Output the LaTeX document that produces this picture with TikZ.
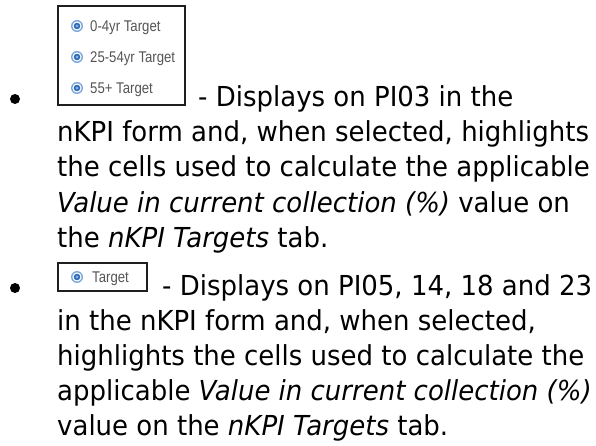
\documentclass[tikz,border=0pt]{standalone}
\usepackage{fontspec}
\setmainfont{DejaVu Sans}[FakeStretch=0.945]
\newfontfamily\uifont{Liberation Sans}[FakeStretch=0.85]
\definecolor{radioout}{RGB}{122,167,217}
\definecolor{radiomid}{RGB}{50,110,185}
\definecolor{radioin}{RGB}{150,186,230}
\definecolor{uigray}{RGB}{85,85,85}
\begin{document}
\begin{tikzpicture}[x=1pt,y=-1pt,
  txt/.style={anchor=base west,inner sep=0pt,font=\fontsize{27.5}{33}\selectfont},
  uitxt/.style={anchor=base west,inner sep=0pt,text=uigray,font=\uifont\fontsize{15.5}{17}\selectfont},
  uibox/.style={draw=black!88,line width=1.3pt},
  bulletdot/.style={fill=black,circle,inner sep=0pt,minimum size=10pt}]
\useasboundingbox (0,0) rectangle (596,446);
\newcommand\radioicon[1]{%
  \fill[radioout] (#1) circle (6);
  \fill[white] (#1) circle (4.6);
  \fill[radiomid] (#1) circle (3.3);
  \fill[radioin] (#1) circle (1.3);}
% first item
\node[bulletdot] (b1) at (15,99) {};
\draw[uibox] (58,6) rectangle (185,105);
\coordinate (r1) at (77,26);
\coordinate (r2) at (77,57);
\coordinate (r3) at (77,88);
\radioicon{r1}\radioicon{r2}\radioicon{r3}
\node[uitxt] (t1) at (90,31.5) {0-4yr Target};
\node[uitxt] (t2) at (90,62.5) {25-54yr Target};
\node[uitxt] (t3) at (90,93.5) {55+ Target};
\node[txt] (l1) at (198,107) {- Displays on PI03 in the};
\node[txt] (l2) at (57,142) {nKPI form and, when selected, highlights};
\node[txt] (l3) at (57,177) {the cells used to calculate the applicable};
\node[txt] (l4) at (57,212) {\textit{Value in current collection (\%)} value on};
\node[txt] (l5) at (57,247) {the \textit{nKPI Targets} tab.};
% second item
\node[bulletdot] (b2) at (15,288) {};
\draw[uibox] (58,263) rectangle (147,291);
\coordinate (r4) at (77,277);
\radioicon{r4}
\node[uitxt] (t4) at (92,282.5) {Target};
\node[txt] (m1) at (162,295) {- Displays on PI05, 14, 18 and 23};
\node[txt] (m2) at (57,330) {in the nKPI form and, when selected,};
\node[txt] (m3) at (57,365) {highlights the cells used to calculate the};
\node[txt] (m4) at (57,400) {applicable \textit{Value in current collection (\%)}};
\node[txt] (m5) at (57,435) {value on the \textit{nKPI Targets} tab.};
\end{tikzpicture}
\end{document}
